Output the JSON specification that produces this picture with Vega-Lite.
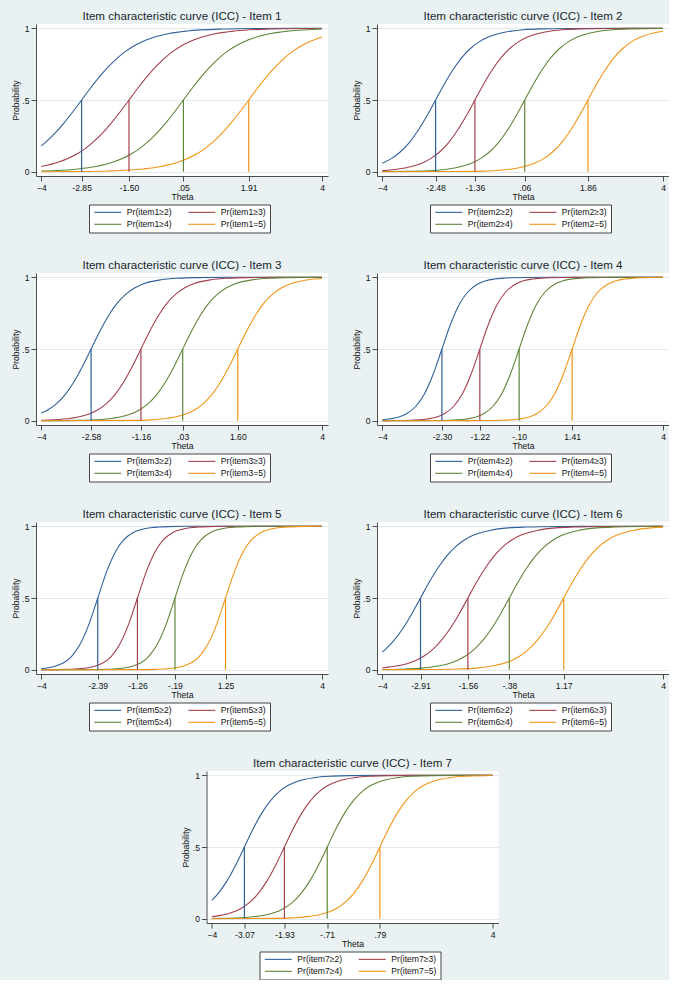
{
"$schema":"https://vega.github.io/schema/vega-lite/v6.json",
"background":"#e9f1f3",
"padding":{"left":11,"top":11,"right":0,"bottom":0},
"datasets":{
"thr":[
{"i":1,"c":2,"b":-2.85},{"i":1,"c":3,"b":-1.5},{"i":1,"c":4,"b":0.05},{"i":1,"c":5,"b":1.91},
{"i":2,"c":2,"b":-2.48},{"i":2,"c":3,"b":-1.36},{"i":2,"c":4,"b":0.06},{"i":2,"c":5,"b":1.86},
{"i":3,"c":2,"b":-2.58},{"i":3,"c":3,"b":-1.16},{"i":3,"c":4,"b":0.03},{"i":3,"c":5,"b":1.6},
{"i":4,"c":2,"b":-2.3},{"i":4,"c":3,"b":-1.22},{"i":4,"c":4,"b":-0.1},{"i":4,"c":5,"b":1.41},
{"i":5,"c":2,"b":-2.39},{"i":5,"c":3,"b":-1.26},{"i":5,"c":4,"b":-0.19},{"i":5,"c":5,"b":1.25},
{"i":6,"c":2,"b":-2.91},{"i":6,"c":3,"b":-1.56},{"i":6,"c":4,"b":-0.38},{"i":6,"c":5,"b":1.17},
{"i":7,"c":2,"b":-3.07},{"i":7,"c":3,"b":-1.93},{"i":7,"c":4,"b":-0.71},{"i":7,"c":5,"b":0.79}
],
"curves":[
{"i":1,"c":2,"t":-4,"p":0.18},{"i":1,"c":2,"t":-3.85,"p":0.211},{"i":1,"c":2,"t":-3.6,"p":0.271},{"i":1,"c":2,"t":-3.35,"p":0.341},{"i":1,"c":2,"t":-3.1,"p":0.418},{"i":1,"c":2,"t":-2.85,"p":0.5},{"i":1,"c":2,"t":-2.6,"p":0.582},{"i":1,"c":2,"t":-2.35,"p":0.659},{"i":1,"c":2,"t":-2.1,"p":0.729},{"i":1,"c":2,"t":-1.85,"p":0.789},{"i":1,"c":2,"t":-1.6,"p":0.839},{"i":1,"c":2,"t":-1.35,"p":0.879},{"i":1,"c":2,"t":-0.85,"p":0.933},{"i":1,"c":2,"t":-0.35,"p":0.964},{"i":1,"c":2,"t":0.15,"p":0.981},{"i":1,"c":2,"t":1.15,"p":0.995},{"i":1,"c":2,"t":2.15,"p":0.999},{"i":1,"c":2,"t":3.15,"p":1},{"i":1,"c":2,"t":4,"p":1},
{"i":1,"c":3,"t":-4,"p":0.036},{"i":1,"c":3,"t":-3.5,"p":0.067},{"i":1,"c":3,"t":-3,"p":0.121},{"i":1,"c":3,"t":-2.75,"p":0.161},{"i":1,"c":3,"t":-2.5,"p":0.211},{"i":1,"c":3,"t":-2.25,"p":0.271},{"i":1,"c":3,"t":-2,"p":0.341},{"i":1,"c":3,"t":-1.75,"p":0.418},{"i":1,"c":3,"t":-1.5,"p":0.5},{"i":1,"c":3,"t":-1.25,"p":0.582},{"i":1,"c":3,"t":-1,"p":0.659},{"i":1,"c":3,"t":-0.75,"p":0.729},{"i":1,"c":3,"t":-0.5,"p":0.789},{"i":1,"c":3,"t":-0.25,"p":0.839},{"i":1,"c":3,"t":0,"p":0.879},{"i":1,"c":3,"t":0.5,"p":0.933},{"i":1,"c":3,"t":1,"p":0.964},{"i":1,"c":3,"t":1.5,"p":0.981},{"i":1,"c":3,"t":2.5,"p":0.995},{"i":1,"c":3,"t":3.5,"p":0.999},{"i":1,"c":3,"t":4,"p":0.999},
{"i":1,"c":4,"t":-4,"p":0.005},{"i":1,"c":4,"t":-2.95,"p":0.019},{"i":1,"c":4,"t":-2.45,"p":0.036},{"i":1,"c":4,"t":-1.95,"p":0.067},{"i":1,"c":4,"t":-1.45,"p":0.121},{"i":1,"c":4,"t":-1.2,"p":0.161},{"i":1,"c":4,"t":-0.95,"p":0.211},{"i":1,"c":4,"t":-0.7,"p":0.271},{"i":1,"c":4,"t":-0.45,"p":0.341},{"i":1,"c":4,"t":-0.2,"p":0.418},{"i":1,"c":4,"t":0.05,"p":0.5},{"i":1,"c":4,"t":0.3,"p":0.582},{"i":1,"c":4,"t":0.55,"p":0.659},{"i":1,"c":4,"t":0.8,"p":0.729},{"i":1,"c":4,"t":1.05,"p":0.789},{"i":1,"c":4,"t":1.3,"p":0.839},{"i":1,"c":4,"t":1.55,"p":0.879},{"i":1,"c":4,"t":2.05,"p":0.933},{"i":1,"c":4,"t":2.55,"p":0.964},{"i":1,"c":4,"t":3.05,"p":0.981},{"i":1,"c":4,"t":4,"p":0.995},
{"i":1,"c":5,"t":-4,"p":0},{"i":1,"c":5,"t":-3.09,"p":0.001},{"i":1,"c":5,"t":-2.09,"p":0.005},{"i":1,"c":5,"t":-1.09,"p":0.019},{"i":1,"c":5,"t":-0.59,"p":0.036},{"i":1,"c":5,"t":-0.09,"p":0.067},{"i":1,"c":5,"t":0.41,"p":0.121},{"i":1,"c":5,"t":0.66,"p":0.161},{"i":1,"c":5,"t":0.91,"p":0.211},{"i":1,"c":5,"t":1.16,"p":0.271},{"i":1,"c":5,"t":1.41,"p":0.341},{"i":1,"c":5,"t":1.66,"p":0.418},{"i":1,"c":5,"t":1.91,"p":0.5},{"i":1,"c":5,"t":2.16,"p":0.582},{"i":1,"c":5,"t":2.41,"p":0.659},{"i":1,"c":5,"t":2.66,"p":0.729},{"i":1,"c":5,"t":2.91,"p":0.789},{"i":1,"c":5,"t":3.16,"p":0.839},{"i":1,"c":5,"t":3.41,"p":0.879},{"i":1,"c":5,"t":3.91,"p":0.933},{"i":1,"c":5,"t":4,"p":0.94},
{"i":2,"c":2,"t":-4,"p":0.059},{"i":2,"c":2,"t":-3.73,"p":0.093},{"i":2,"c":2,"t":-3.48,"p":0.139},{"i":2,"c":2,"t":-3.23,"p":0.203},{"i":2,"c":2,"t":-2.98,"p":0.287},{"i":2,"c":2,"t":-2.73,"p":0.388},{"i":2,"c":2,"t":-2.48,"p":0.5},{"i":2,"c":2,"t":-2.23,"p":0.612},{"i":2,"c":2,"t":-1.98,"p":0.713},{"i":2,"c":2,"t":-1.73,"p":0.797},{"i":2,"c":2,"t":-1.48,"p":0.861},{"i":2,"c":2,"t":-1.23,"p":0.907},{"i":2,"c":2,"t":-0.98,"p":0.939},{"i":2,"c":2,"t":-0.48,"p":0.974},{"i":2,"c":2,"t":0.02,"p":0.99},{"i":2,"c":2,"t":0.52,"p":0.996},{"i":2,"c":2,"t":1.52,"p":0.999},{"i":2,"c":2,"t":2.52,"p":1},{"i":2,"c":2,"t":4,"p":1},
{"i":2,"c":3,"t":-4,"p":0.008},{"i":2,"c":3,"t":-3.86,"p":0.01},{"i":2,"c":3,"t":-3.36,"p":0.026},{"i":2,"c":3,"t":-2.86,"p":0.061},{"i":2,"c":3,"t":-2.61,"p":0.093},{"i":2,"c":3,"t":-2.36,"p":0.139},{"i":2,"c":3,"t":-2.11,"p":0.203},{"i":2,"c":3,"t":-1.86,"p":0.287},{"i":2,"c":3,"t":-1.61,"p":0.388},{"i":2,"c":3,"t":-1.36,"p":0.5},{"i":2,"c":3,"t":-1.11,"p":0.612},{"i":2,"c":3,"t":-0.86,"p":0.713},{"i":2,"c":3,"t":-0.61,"p":0.797},{"i":2,"c":3,"t":-0.36,"p":0.861},{"i":2,"c":3,"t":-0.11,"p":0.907},{"i":2,"c":3,"t":0.14,"p":0.939},{"i":2,"c":3,"t":0.64,"p":0.974},{"i":2,"c":3,"t":1.14,"p":0.99},{"i":2,"c":3,"t":1.64,"p":0.996},{"i":2,"c":3,"t":2.64,"p":0.999},{"i":2,"c":3,"t":4,"p":1},
{"i":2,"c":4,"t":-4,"p":0.001},{"i":2,"c":4,"t":-2.94,"p":0.004},{"i":2,"c":4,"t":-2.44,"p":0.01},{"i":2,"c":4,"t":-1.94,"p":0.026},{"i":2,"c":4,"t":-1.44,"p":0.061},{"i":2,"c":4,"t":-1.19,"p":0.093},{"i":2,"c":4,"t":-0.94,"p":0.139},{"i":2,"c":4,"t":-0.69,"p":0.203},{"i":2,"c":4,"t":-0.44,"p":0.287},{"i":2,"c":4,"t":-0.19,"p":0.388},{"i":2,"c":4,"t":0.06,"p":0.5},{"i":2,"c":4,"t":0.31,"p":0.612},{"i":2,"c":4,"t":0.56,"p":0.713},{"i":2,"c":4,"t":0.81,"p":0.797},{"i":2,"c":4,"t":1.06,"p":0.861},{"i":2,"c":4,"t":1.31,"p":0.907},{"i":2,"c":4,"t":1.56,"p":0.939},{"i":2,"c":4,"t":2.06,"p":0.974},{"i":2,"c":4,"t":2.56,"p":0.99},{"i":2,"c":4,"t":3.06,"p":0.996},{"i":2,"c":4,"t":4,"p":0.999},
{"i":2,"c":5,"t":-4,"p":0},{"i":2,"c":5,"t":-2.14,"p":0.001},{"i":2,"c":5,"t":-1.14,"p":0.004},{"i":2,"c":5,"t":-0.64,"p":0.01},{"i":2,"c":5,"t":-0.14,"p":0.026},{"i":2,"c":5,"t":0.36,"p":0.061},{"i":2,"c":5,"t":0.61,"p":0.093},{"i":2,"c":5,"t":0.86,"p":0.139},{"i":2,"c":5,"t":1.11,"p":0.203},{"i":2,"c":5,"t":1.36,"p":0.287},{"i":2,"c":5,"t":1.61,"p":0.388},{"i":2,"c":5,"t":1.86,"p":0.5},{"i":2,"c":5,"t":2.11,"p":0.612},{"i":2,"c":5,"t":2.36,"p":0.713},{"i":2,"c":5,"t":2.61,"p":0.797},{"i":2,"c":5,"t":2.86,"p":0.861},{"i":2,"c":5,"t":3.11,"p":0.907},{"i":2,"c":5,"t":3.36,"p":0.939},{"i":2,"c":5,"t":3.86,"p":0.974},{"i":2,"c":5,"t":4,"p":0.98},
{"i":3,"c":2,"t":-4,"p":0.053},{"i":3,"c":2,"t":-3.83,"p":0.073},{"i":3,"c":2,"t":-3.58,"p":0.116},{"i":3,"c":2,"t":-3.33,"p":0.179},{"i":3,"c":2,"t":-3.08,"p":0.266},{"i":3,"c":2,"t":-2.83,"p":0.376},{"i":3,"c":2,"t":-2.58,"p":0.5},{"i":3,"c":2,"t":-2.33,"p":0.624},{"i":3,"c":2,"t":-2.08,"p":0.734},{"i":3,"c":2,"t":-1.83,"p":0.821},{"i":3,"c":2,"t":-1.58,"p":0.884},{"i":3,"c":2,"t":-1.33,"p":0.927},{"i":3,"c":2,"t":-1.08,"p":0.955},{"i":3,"c":2,"t":-0.58,"p":0.983},{"i":3,"c":2,"t":-0.08,"p":0.994},{"i":3,"c":2,"t":0.42,"p":0.998},{"i":3,"c":2,"t":1.42,"p":1},{"i":3,"c":2,"t":4,"p":1},
{"i":3,"c":3,"t":-4,"p":0.003},{"i":3,"c":3,"t":-3.66,"p":0.006},{"i":3,"c":3,"t":-3.16,"p":0.017},{"i":3,"c":3,"t":-2.66,"p":0.045},{"i":3,"c":3,"t":-2.41,"p":0.073},{"i":3,"c":3,"t":-2.16,"p":0.116},{"i":3,"c":3,"t":-1.91,"p":0.179},{"i":3,"c":3,"t":-1.66,"p":0.266},{"i":3,"c":3,"t":-1.41,"p":0.376},{"i":3,"c":3,"t":-1.16,"p":0.5},{"i":3,"c":3,"t":-0.91,"p":0.624},{"i":3,"c":3,"t":-0.66,"p":0.734},{"i":3,"c":3,"t":-0.41,"p":0.821},{"i":3,"c":3,"t":-0.16,"p":0.884},{"i":3,"c":3,"t":0.09,"p":0.927},{"i":3,"c":3,"t":0.34,"p":0.955},{"i":3,"c":3,"t":0.84,"p":0.983},{"i":3,"c":3,"t":1.34,"p":0.994},{"i":3,"c":3,"t":1.84,"p":0.998},{"i":3,"c":3,"t":2.84,"p":1},{"i":3,"c":3,"t":4,"p":1},
{"i":3,"c":4,"t":-4,"p":0},{"i":3,"c":4,"t":-2.97,"p":0.002},{"i":3,"c":4,"t":-2.47,"p":0.006},{"i":3,"c":4,"t":-1.97,"p":0.017},{"i":3,"c":4,"t":-1.47,"p":0.045},{"i":3,"c":4,"t":-1.22,"p":0.073},{"i":3,"c":4,"t":-0.97,"p":0.116},{"i":3,"c":4,"t":-0.72,"p":0.179},{"i":3,"c":4,"t":-0.47,"p":0.266},{"i":3,"c":4,"t":-0.22,"p":0.376},{"i":3,"c":4,"t":0.03,"p":0.5},{"i":3,"c":4,"t":0.28,"p":0.624},{"i":3,"c":4,"t":0.53,"p":0.734},{"i":3,"c":4,"t":0.78,"p":0.821},{"i":3,"c":4,"t":1.03,"p":0.884},{"i":3,"c":4,"t":1.28,"p":0.927},{"i":3,"c":4,"t":1.53,"p":0.955},{"i":3,"c":4,"t":2.03,"p":0.983},{"i":3,"c":4,"t":2.53,"p":0.994},{"i":3,"c":4,"t":3.03,"p":0.998},{"i":3,"c":4,"t":4,"p":1},
{"i":3,"c":5,"t":-4,"p":0},{"i":3,"c":5,"t":-1.4,"p":0.002},{"i":3,"c":5,"t":-0.9,"p":0.006},{"i":3,"c":5,"t":-0.4,"p":0.017},{"i":3,"c":5,"t":0.1,"p":0.045},{"i":3,"c":5,"t":0.35,"p":0.073},{"i":3,"c":5,"t":0.6,"p":0.116},{"i":3,"c":5,"t":0.85,"p":0.179},{"i":3,"c":5,"t":1.1,"p":0.266},{"i":3,"c":5,"t":1.35,"p":0.376},{"i":3,"c":5,"t":1.6,"p":0.5},{"i":3,"c":5,"t":1.85,"p":0.624},{"i":3,"c":5,"t":2.1,"p":0.734},{"i":3,"c":5,"t":2.35,"p":0.821},{"i":3,"c":5,"t":2.6,"p":0.884},{"i":3,"c":5,"t":2.85,"p":0.927},{"i":3,"c":5,"t":3.1,"p":0.955},{"i":3,"c":5,"t":3.6,"p":0.983},{"i":3,"c":5,"t":4,"p":0.992},
{"i":4,"c":2,"t":-4,"p":0.007},{"i":4,"c":2,"t":-3.8,"p":0.012},{"i":4,"c":2,"t":-3.55,"p":0.024},{"i":4,"c":2,"t":-3.3,"p":0.05},{"i":4,"c":2,"t":-3.05,"p":0.099},{"i":4,"c":2,"t":-2.8,"p":0.186},{"i":4,"c":2,"t":-2.55,"p":0.324},{"i":4,"c":2,"t":-2.3,"p":0.5},{"i":4,"c":2,"t":-2.05,"p":0.676},{"i":4,"c":2,"t":-1.8,"p":0.814},{"i":4,"c":2,"t":-1.55,"p":0.901},{"i":4,"c":2,"t":-1.3,"p":0.95},{"i":4,"c":2,"t":-1.05,"p":0.976},{"i":4,"c":2,"t":-0.8,"p":0.988},{"i":4,"c":2,"t":-0.55,"p":0.994},{"i":4,"c":2,"t":-0.3,"p":0.997},{"i":4,"c":2,"t":0.2,"p":0.999},{"i":4,"c":2,"t":0.7,"p":1},{"i":4,"c":2,"t":4,"p":1},
{"i":4,"c":3,"t":-4,"p":0},{"i":4,"c":3,"t":-3.72,"p":0.001},{"i":4,"c":3,"t":-3.22,"p":0.003},{"i":4,"c":3,"t":-2.97,"p":0.006},{"i":4,"c":3,"t":-2.72,"p":0.012},{"i":4,"c":3,"t":-2.47,"p":0.024},{"i":4,"c":3,"t":-2.22,"p":0.05},{"i":4,"c":3,"t":-1.97,"p":0.099},{"i":4,"c":3,"t":-1.72,"p":0.186},{"i":4,"c":3,"t":-1.47,"p":0.324},{"i":4,"c":3,"t":-1.22,"p":0.5},{"i":4,"c":3,"t":-0.97,"p":0.676},{"i":4,"c":3,"t":-0.72,"p":0.814},{"i":4,"c":3,"t":-0.47,"p":0.901},{"i":4,"c":3,"t":-0.22,"p":0.95},{"i":4,"c":3,"t":0.03,"p":0.976},{"i":4,"c":3,"t":0.28,"p":0.988},{"i":4,"c":3,"t":0.53,"p":0.994},{"i":4,"c":3,"t":0.78,"p":0.997},{"i":4,"c":3,"t":1.28,"p":0.999},{"i":4,"c":3,"t":1.78,"p":1},{"i":4,"c":3,"t":4,"p":1},
{"i":4,"c":4,"t":-4,"p":0},{"i":4,"c":4,"t":-2.6,"p":0.001},{"i":4,"c":4,"t":-2.1,"p":0.003},{"i":4,"c":4,"t":-1.85,"p":0.006},{"i":4,"c":4,"t":-1.6,"p":0.012},{"i":4,"c":4,"t":-1.35,"p":0.024},{"i":4,"c":4,"t":-1.1,"p":0.05},{"i":4,"c":4,"t":-0.85,"p":0.099},{"i":4,"c":4,"t":-0.6,"p":0.186},{"i":4,"c":4,"t":-0.35,"p":0.324},{"i":4,"c":4,"t":-0.1,"p":0.5},{"i":4,"c":4,"t":0.15,"p":0.676},{"i":4,"c":4,"t":0.4,"p":0.814},{"i":4,"c":4,"t":0.65,"p":0.901},{"i":4,"c":4,"t":0.9,"p":0.95},{"i":4,"c":4,"t":1.15,"p":0.976},{"i":4,"c":4,"t":1.4,"p":0.988},{"i":4,"c":4,"t":1.65,"p":0.994},{"i":4,"c":4,"t":1.9,"p":0.997},{"i":4,"c":4,"t":2.4,"p":0.999},{"i":4,"c":4,"t":2.9,"p":1},{"i":4,"c":4,"t":4,"p":1},
{"i":4,"c":5,"t":-4,"p":0},{"i":4,"c":5,"t":-1.09,"p":0.001},{"i":4,"c":5,"t":-0.59,"p":0.003},{"i":4,"c":5,"t":-0.34,"p":0.006},{"i":4,"c":5,"t":-0.09,"p":0.012},{"i":4,"c":5,"t":0.16,"p":0.024},{"i":4,"c":5,"t":0.41,"p":0.05},{"i":4,"c":5,"t":0.66,"p":0.099},{"i":4,"c":5,"t":0.91,"p":0.186},{"i":4,"c":5,"t":1.16,"p":0.324},{"i":4,"c":5,"t":1.41,"p":0.5},{"i":4,"c":5,"t":1.66,"p":0.676},{"i":4,"c":5,"t":1.91,"p":0.814},{"i":4,"c":5,"t":2.16,"p":0.901},{"i":4,"c":5,"t":2.41,"p":0.95},{"i":4,"c":5,"t":2.66,"p":0.976},{"i":4,"c":5,"t":2.91,"p":0.988},{"i":4,"c":5,"t":3.16,"p":0.994},{"i":4,"c":5,"t":3.41,"p":0.997},{"i":4,"c":5,"t":4,"p":1},
{"i":5,"c":2,"t":-4,"p":0.007},{"i":5,"c":2,"t":-3.89,"p":0.01},{"i":5,"c":2,"t":-3.64,"p":0.022},{"i":5,"c":2,"t":-3.39,"p":0.045},{"i":5,"c":2,"t":-3.14,"p":0.092},{"i":5,"c":2,"t":-2.89,"p":0.179},{"i":5,"c":2,"t":-2.64,"p":0.318},{"i":5,"c":2,"t":-2.39,"p":0.5},{"i":5,"c":2,"t":-2.14,"p":0.682},{"i":5,"c":2,"t":-1.89,"p":0.821},{"i":5,"c":2,"t":-1.64,"p":0.908},{"i":5,"c":2,"t":-1.39,"p":0.955},{"i":5,"c":2,"t":-1.14,"p":0.978},{"i":5,"c":2,"t":-0.89,"p":0.99},{"i":5,"c":2,"t":-0.64,"p":0.995},{"i":5,"c":2,"t":-0.39,"p":0.998},{"i":5,"c":2,"t":0.11,"p":1},{"i":5,"c":2,"t":4,"p":1},
{"i":5,"c":3,"t":-4,"p":0},{"i":5,"c":3,"t":-3.76,"p":0.0005},{"i":5,"c":3,"t":-3.26,"p":0.002},{"i":5,"c":3,"t":-3.01,"p":0.005},{"i":5,"c":3,"t":-2.76,"p":0.01},{"i":5,"c":3,"t":-2.51,"p":0.022},{"i":5,"c":3,"t":-2.26,"p":0.045},{"i":5,"c":3,"t":-2.01,"p":0.092},{"i":5,"c":3,"t":-1.76,"p":0.179},{"i":5,"c":3,"t":-1.51,"p":0.318},{"i":5,"c":3,"t":-1.26,"p":0.5},{"i":5,"c":3,"t":-1.01,"p":0.682},{"i":5,"c":3,"t":-0.76,"p":0.821},{"i":5,"c":3,"t":-0.51,"p":0.908},{"i":5,"c":3,"t":-0.26,"p":0.955},{"i":5,"c":3,"t":-0.01,"p":0.978},{"i":5,"c":3,"t":0.24,"p":0.99},{"i":5,"c":3,"t":0.49,"p":0.995},{"i":5,"c":3,"t":0.74,"p":0.998},{"i":5,"c":3,"t":1.24,"p":1},{"i":5,"c":3,"t":4,"p":1},
{"i":5,"c":4,"t":-4,"p":0},{"i":5,"c":4,"t":-2.69,"p":0.0005},{"i":5,"c":4,"t":-2.19,"p":0.002},{"i":5,"c":4,"t":-1.94,"p":0.005},{"i":5,"c":4,"t":-1.69,"p":0.01},{"i":5,"c":4,"t":-1.44,"p":0.022},{"i":5,"c":4,"t":-1.19,"p":0.045},{"i":5,"c":4,"t":-0.94,"p":0.092},{"i":5,"c":4,"t":-0.69,"p":0.179},{"i":5,"c":4,"t":-0.44,"p":0.318},{"i":5,"c":4,"t":-0.19,"p":0.5},{"i":5,"c":4,"t":0.06,"p":0.682},{"i":5,"c":4,"t":0.31,"p":0.821},{"i":5,"c":4,"t":0.56,"p":0.908},{"i":5,"c":4,"t":0.81,"p":0.955},{"i":5,"c":4,"t":1.06,"p":0.978},{"i":5,"c":4,"t":1.31,"p":0.99},{"i":5,"c":4,"t":1.56,"p":0.995},{"i":5,"c":4,"t":1.81,"p":0.998},{"i":5,"c":4,"t":2.31,"p":1},{"i":5,"c":4,"t":4,"p":1},
{"i":5,"c":5,"t":-4,"p":0},{"i":5,"c":5,"t":-1.25,"p":0.0005},{"i":5,"c":5,"t":-0.75,"p":0.002},{"i":5,"c":5,"t":-0.5,"p":0.005},{"i":5,"c":5,"t":-0.25,"p":0.01},{"i":5,"c":5,"t":0,"p":0.022},{"i":5,"c":5,"t":0.25,"p":0.045},{"i":5,"c":5,"t":0.5,"p":0.092},{"i":5,"c":5,"t":0.75,"p":0.179},{"i":5,"c":5,"t":1,"p":0.318},{"i":5,"c":5,"t":1.25,"p":0.5},{"i":5,"c":5,"t":1.5,"p":0.682},{"i":5,"c":5,"t":1.75,"p":0.821},{"i":5,"c":5,"t":2,"p":0.908},{"i":5,"c":5,"t":2.25,"p":0.955},{"i":5,"c":5,"t":2.5,"p":0.978},{"i":5,"c":5,"t":2.75,"p":0.99},{"i":5,"c":5,"t":3,"p":0.995},{"i":5,"c":5,"t":3.25,"p":0.998},{"i":5,"c":5,"t":3.75,"p":1},{"i":5,"c":5,"t":4,"p":1},
{"i":6,"c":2,"t":-4,"p":0.123},{"i":6,"c":2,"t":-3.91,"p":0.142},{"i":6,"c":2,"t":-3.66,"p":0.206},{"i":6,"c":2,"t":-3.41,"p":0.289},{"i":6,"c":2,"t":-3.16,"p":0.389},{"i":6,"c":2,"t":-2.91,"p":0.5},{"i":6,"c":2,"t":-2.66,"p":0.611},{"i":6,"c":2,"t":-2.41,"p":0.711},{"i":6,"c":2,"t":-2.16,"p":0.794},{"i":6,"c":2,"t":-1.91,"p":0.858},{"i":6,"c":2,"t":-1.66,"p":0.905},{"i":6,"c":2,"t":-1.41,"p":0.937},{"i":6,"c":2,"t":-0.91,"p":0.973},{"i":6,"c":2,"t":-0.41,"p":0.989},{"i":6,"c":2,"t":0.09,"p":0.995},{"i":6,"c":2,"t":1.09,"p":0.999},{"i":6,"c":2,"t":2.09,"p":1},{"i":6,"c":2,"t":4,"p":1},
{"i":6,"c":3,"t":-4,"p":0.012},{"i":6,"c":3,"t":-3.56,"p":0.027},{"i":6,"c":3,"t":-3.06,"p":0.063},{"i":6,"c":3,"t":-2.81,"p":0.095},{"i":6,"c":3,"t":-2.56,"p":0.142},{"i":6,"c":3,"t":-2.31,"p":0.206},{"i":6,"c":3,"t":-2.06,"p":0.289},{"i":6,"c":3,"t":-1.81,"p":0.389},{"i":6,"c":3,"t":-1.56,"p":0.5},{"i":6,"c":3,"t":-1.31,"p":0.611},{"i":6,"c":3,"t":-1.06,"p":0.711},{"i":6,"c":3,"t":-0.81,"p":0.794},{"i":6,"c":3,"t":-0.56,"p":0.858},{"i":6,"c":3,"t":-0.31,"p":0.905},{"i":6,"c":3,"t":-0.06,"p":0.937},{"i":6,"c":3,"t":0.44,"p":0.973},{"i":6,"c":3,"t":0.94,"p":0.989},{"i":6,"c":3,"t":1.44,"p":0.995},{"i":6,"c":3,"t":2.44,"p":0.999},{"i":6,"c":3,"t":3.44,"p":1},{"i":6,"c":3,"t":4,"p":1},
{"i":6,"c":4,"t":-4,"p":0.001},{"i":6,"c":4,"t":-3.38,"p":0.005},{"i":6,"c":4,"t":-2.88,"p":0.011},{"i":6,"c":4,"t":-2.38,"p":0.027},{"i":6,"c":4,"t":-1.88,"p":0.063},{"i":6,"c":4,"t":-1.63,"p":0.095},{"i":6,"c":4,"t":-1.38,"p":0.142},{"i":6,"c":4,"t":-1.13,"p":0.206},{"i":6,"c":4,"t":-0.88,"p":0.289},{"i":6,"c":4,"t":-0.63,"p":0.389},{"i":6,"c":4,"t":-0.38,"p":0.5},{"i":6,"c":4,"t":-0.13,"p":0.611},{"i":6,"c":4,"t":0.12,"p":0.711},{"i":6,"c":4,"t":0.37,"p":0.794},{"i":6,"c":4,"t":0.62,"p":0.858},{"i":6,"c":4,"t":0.87,"p":0.905},{"i":6,"c":4,"t":1.12,"p":0.937},{"i":6,"c":4,"t":1.62,"p":0.973},{"i":6,"c":4,"t":2.12,"p":0.989},{"i":6,"c":4,"t":2.62,"p":0.995},{"i":6,"c":4,"t":3.62,"p":0.999},{"i":6,"c":4,"t":4,"p":1},
{"i":6,"c":5,"t":-4,"p":0},{"i":6,"c":5,"t":-2.83,"p":0.001},{"i":6,"c":5,"t":-1.83,"p":0.005},{"i":6,"c":5,"t":-1.33,"p":0.011},{"i":6,"c":5,"t":-0.83,"p":0.027},{"i":6,"c":5,"t":-0.33,"p":0.063},{"i":6,"c":5,"t":-0.08,"p":0.095},{"i":6,"c":5,"t":0.17,"p":0.142},{"i":6,"c":5,"t":0.42,"p":0.206},{"i":6,"c":5,"t":0.67,"p":0.289},{"i":6,"c":5,"t":0.92,"p":0.389},{"i":6,"c":5,"t":1.17,"p":0.5},{"i":6,"c":5,"t":1.42,"p":0.611},{"i":6,"c":5,"t":1.67,"p":0.711},{"i":6,"c":5,"t":1.92,"p":0.794},{"i":6,"c":5,"t":2.17,"p":0.858},{"i":6,"c":5,"t":2.42,"p":0.905},{"i":6,"c":5,"t":2.67,"p":0.937},{"i":6,"c":5,"t":3.17,"p":0.973},{"i":6,"c":5,"t":3.67,"p":0.989},{"i":6,"c":5,"t":4,"p":0.994},
{"i":7,"c":2,"t":-4,"p":0.127},{"i":7,"c":2,"t":-3.82,"p":0.175},{"i":7,"c":2,"t":-3.57,"p":0.262},{"i":7,"c":2,"t":-3.32,"p":0.373},{"i":7,"c":2,"t":-3.07,"p":0.5},{"i":7,"c":2,"t":-2.82,"p":0.627},{"i":7,"c":2,"t":-2.57,"p":0.738},{"i":7,"c":2,"t":-2.32,"p":0.825},{"i":7,"c":2,"t":-2.07,"p":0.888},{"i":7,"c":2,"t":-1.82,"p":0.93},{"i":7,"c":2,"t":-1.57,"p":0.957},{"i":7,"c":2,"t":-1.07,"p":0.984},{"i":7,"c":2,"t":-0.57,"p":0.994},{"i":7,"c":2,"t":-0.07,"p":0.998},{"i":7,"c":2,"t":0.93,"p":1},{"i":7,"c":2,"t":4,"p":1},
{"i":7,"c":3,"t":-4,"p":0.014},{"i":7,"c":3,"t":-3.93,"p":0.016},{"i":7,"c":3,"t":-3.43,"p":0.043},{"i":7,"c":3,"t":-3.18,"p":0.07},{"i":7,"c":3,"t":-2.93,"p":0.112},{"i":7,"c":3,"t":-2.68,"p":0.175},{"i":7,"c":3,"t":-2.43,"p":0.262},{"i":7,"c":3,"t":-2.18,"p":0.373},{"i":7,"c":3,"t":-1.93,"p":0.5},{"i":7,"c":3,"t":-1.68,"p":0.627},{"i":7,"c":3,"t":-1.43,"p":0.738},{"i":7,"c":3,"t":-1.18,"p":0.825},{"i":7,"c":3,"t":-0.93,"p":0.888},{"i":7,"c":3,"t":-0.68,"p":0.93},{"i":7,"c":3,"t":-0.43,"p":0.957},{"i":7,"c":3,"t":0.07,"p":0.984},{"i":7,"c":3,"t":0.57,"p":0.994},{"i":7,"c":3,"t":1.07,"p":0.998},{"i":7,"c":3,"t":2.07,"p":1},{"i":7,"c":3,"t":4,"p":1},
{"i":7,"c":4,"t":-4,"p":0.001},{"i":7,"c":4,"t":-3.71,"p":0.002},{"i":7,"c":4,"t":-3.21,"p":0.006},{"i":7,"c":4,"t":-2.71,"p":0.016},{"i":7,"c":4,"t":-2.21,"p":0.043},{"i":7,"c":4,"t":-1.96,"p":0.07},{"i":7,"c":4,"t":-1.71,"p":0.112},{"i":7,"c":4,"t":-1.46,"p":0.175},{"i":7,"c":4,"t":-1.21,"p":0.262},{"i":7,"c":4,"t":-0.96,"p":0.373},{"i":7,"c":4,"t":-0.71,"p":0.5},{"i":7,"c":4,"t":-0.46,"p":0.627},{"i":7,"c":4,"t":-0.21,"p":0.738},{"i":7,"c":4,"t":0.04,"p":0.825},{"i":7,"c":4,"t":0.29,"p":0.888},{"i":7,"c":4,"t":0.54,"p":0.93},{"i":7,"c":4,"t":0.79,"p":0.957},{"i":7,"c":4,"t":1.29,"p":0.984},{"i":7,"c":4,"t":1.79,"p":0.994},{"i":7,"c":4,"t":2.29,"p":0.998},{"i":7,"c":4,"t":3.29,"p":1},{"i":7,"c":4,"t":4,"p":1},
{"i":7,"c":5,"t":-4,"p":0},{"i":7,"c":5,"t":-2.21,"p":0.002},{"i":7,"c":5,"t":-1.71,"p":0.006},{"i":7,"c":5,"t":-1.21,"p":0.016},{"i":7,"c":5,"t":-0.71,"p":0.043},{"i":7,"c":5,"t":-0.46,"p":0.07},{"i":7,"c":5,"t":-0.21,"p":0.112},{"i":7,"c":5,"t":0.04,"p":0.175},{"i":7,"c":5,"t":0.29,"p":0.262},{"i":7,"c":5,"t":0.54,"p":0.373},{"i":7,"c":5,"t":0.79,"p":0.5},{"i":7,"c":5,"t":1.04,"p":0.627},{"i":7,"c":5,"t":1.29,"p":0.738},{"i":7,"c":5,"t":1.54,"p":0.825},{"i":7,"c":5,"t":1.79,"p":0.888},{"i":7,"c":5,"t":2.04,"p":0.93},{"i":7,"c":5,"t":2.29,"p":0.957},{"i":7,"c":5,"t":2.79,"p":0.984},{"i":7,"c":5,"t":3.29,"p":0.994},{"i":7,"c":5,"t":4,"p":0.999}
]
},
"config":{
"font":"Liberation Sans",
"view":{"fill":"white","stroke":null},
"axis":{"domainColor":"#4d4d4d","tickColor":"#4d4d4d","tickSize":5,"labelFontSize":8.6,"labelColor":"#111111","titleFontSize":8.6,"titleFontWeight":"normal","titleColor":"#111111","labelPadding":2,"gridColor":"#e2eaed","labelFlush":false,"labelOverlap":false},
"axisX":{"grid":false,"titlePadding":1},
"axisY":{"grid":true,"labelAngle":0,"titlePadding":1.5,"minExtent":0},
"legend":{"fillColor":"white","strokeColor":"#444444","padding":3.5,"labelFontSize":8.6,"labelColor":"#111111","symbolStrokeWidth":1.6,"columnPadding":13,"rowPadding":3,"labelLimit":200},
"title":{"fontSize":11.6,"fontWeight":"normal","color":"#1a1f2b","offset":1},
"line":{"strokeWidth":1.1,"interpolate":"monotone"},
"rule":{"strokeWidth":1.2}
},
"spacing":27,
"center":true,
"resolve":{"scale":{"color":"independent","x":"independent","y":"independent"},"legend":{"color":"independent"},"axis":{"x":"independent","y":"independent"}},
"vconcat":[
{"hconcat":[
{"width":292,"height":152,"title":"Item characteristic curve (ICC) - Item 1","layer":[
{"data":{"name":"curves"},"transform":[{"filter":"datum.i==1"}],"mark":"line","encoding":{
"x":{"field":"t","type":"quantitative","title":"Theta","scale":{"domain":[-4.15,4.17],"nice":false,"zero":false},"axis":{"values":[-4,-2.85,-1.5,0.05,1.91,4],"labelExpr":"abs(datum.value)==4 ? format(datum.value,'d') : (datum.value<0?'-':'') + (abs(datum.value)<1 ? substring(format(abs(datum.value),'.2f'),1) : format(abs(datum.value),'.2f'))"}},
"y":{"field":"p","type":"quantitative","title":"Probability","scale":{"domain":[-0.03,1.03],"nice":false,"zero":false},"axis":{"values":[0,0.5,1],"labelExpr":"datum.value==0.5?'.5':(datum.value==1?'1':'0')"}},
"color":{"field":"c","type":"nominal","scale":{"domain":[2,3,4,5],"range":["#30609a","#a3404c","#60853a","#f29418"]},"legend":{"title":null,"orient":"none","legendX":53,"legendY":180.5,"columns":2,"direction":"horizontal","symbolType":"M0,0H9","symbolSize":36,"symbolOffset":-2.5,"labelOffset":28.2,"labelExpr":"datum.value==5 ? 'Pr(item1=5)' : 'Pr(item1≥' + datum.value + ')'"}}}},
{"data":{"name":"thr"},"transform":[{"filter":"datum.i==1"}],"mark":"rule","encoding":{"x":{"field":"b","type":"quantitative","title":"Theta"},"y":{"datum":0},"y2":{"datum":0.5},"color":{"field":"c","type":"nominal"}}}
]},
{"width":292,"height":152,"title":"Item characteristic curve (ICC) - Item 2","layer":[
{"data":{"name":"curves"},"transform":[{"filter":"datum.i==2"}],"mark":"line","encoding":{
"x":{"field":"t","type":"quantitative","title":"Theta","scale":{"domain":[-4.15,4.17],"nice":false,"zero":false},"axis":{"values":[-4,-2.48,-1.36,0.06,1.86,4],"labelExpr":"abs(datum.value)==4 ? format(datum.value,'d') : (datum.value<0?'-':'') + (abs(datum.value)<1 ? substring(format(abs(datum.value),'.2f'),1) : format(abs(datum.value),'.2f'))"}},
"y":{"field":"p","type":"quantitative","title":"Probability","scale":{"domain":[-0.03,1.03],"nice":false,"zero":false},"axis":{"values":[0,0.5,1],"labelExpr":"datum.value==0.5?'.5':(datum.value==1?'1':'0')"}},
"color":{"field":"c","type":"nominal","scale":{"domain":[2,3,4,5],"range":["#30609a","#a3404c","#60853a","#f29418"]},"legend":{"title":null,"orient":"none","legendX":53,"legendY":180.5,"columns":2,"direction":"horizontal","symbolType":"M0,0H9","symbolSize":36,"symbolOffset":-2.5,"labelOffset":28.2,"labelExpr":"datum.value==5 ? 'Pr(item2=5)' : 'Pr(item2≥' + datum.value + ')'"}}}},
{"data":{"name":"thr"},"transform":[{"filter":"datum.i==2"}],"mark":"rule","encoding":{"x":{"field":"b","type":"quantitative","title":"Theta"},"y":{"datum":0},"y2":{"datum":0.5},"color":{"field":"c","type":"nominal"}}}
]}
],"spacing":24,"resolve":{"scale":{"color":"independent","x":"independent","y":"independent"},"legend":{"color":"independent"},"axis":{"x":"independent","y":"independent"}}},
{"hconcat":[
{"width":292,"height":152,"title":"Item characteristic curve (ICC) - Item 3","layer":[
{"data":{"name":"curves"},"transform":[{"filter":"datum.i==3"}],"mark":"line","encoding":{
"x":{"field":"t","type":"quantitative","title":"Theta","scale":{"domain":[-4.15,4.17],"nice":false,"zero":false},"axis":{"values":[-4,-2.58,-1.16,0.03,1.6,4],"labelExpr":"abs(datum.value)==4 ? format(datum.value,'d') : (datum.value<0?'-':'') + (abs(datum.value)<1 ? substring(format(abs(datum.value),'.2f'),1) : format(abs(datum.value),'.2f'))"}},
"y":{"field":"p","type":"quantitative","title":"Probability","scale":{"domain":[-0.03,1.03],"nice":false,"zero":false},"axis":{"values":[0,0.5,1],"labelExpr":"datum.value==0.5?'.5':(datum.value==1?'1':'0')"}},
"color":{"field":"c","type":"nominal","scale":{"domain":[2,3,4,5],"range":["#30609a","#a3404c","#60853a","#f29418"]},"legend":{"title":null,"orient":"none","legendX":53,"legendY":180.5,"columns":2,"direction":"horizontal","symbolType":"M0,0H9","symbolSize":36,"symbolOffset":-2.5,"labelOffset":28.2,"labelExpr":"datum.value==5 ? 'Pr(item3=5)' : 'Pr(item3≥' + datum.value + ')'"}}}},
{"data":{"name":"thr"},"transform":[{"filter":"datum.i==3"}],"mark":"rule","encoding":{"x":{"field":"b","type":"quantitative","title":"Theta"},"y":{"datum":0},"y2":{"datum":0.5},"color":{"field":"c","type":"nominal"}}}
]},
{"width":292,"height":152,"title":"Item characteristic curve (ICC) - Item 4","layer":[
{"data":{"name":"curves"},"transform":[{"filter":"datum.i==4"}],"mark":"line","encoding":{
"x":{"field":"t","type":"quantitative","title":"Theta","scale":{"domain":[-4.15,4.17],"nice":false,"zero":false},"axis":{"values":[-4,-2.3,-1.22,-0.1,1.41,4],"labelExpr":"abs(datum.value)==4 ? format(datum.value,'d') : (datum.value<0?'-':'') + (abs(datum.value)<1 ? substring(format(abs(datum.value),'.2f'),1) : format(abs(datum.value),'.2f'))"}},
"y":{"field":"p","type":"quantitative","title":"Probability","scale":{"domain":[-0.03,1.03],"nice":false,"zero":false},"axis":{"values":[0,0.5,1],"labelExpr":"datum.value==0.5?'.5':(datum.value==1?'1':'0')"}},
"color":{"field":"c","type":"nominal","scale":{"domain":[2,3,4,5],"range":["#30609a","#a3404c","#60853a","#f29418"]},"legend":{"title":null,"orient":"none","legendX":53,"legendY":180.5,"columns":2,"direction":"horizontal","symbolType":"M0,0H9","symbolSize":36,"symbolOffset":-2.5,"labelOffset":28.2,"labelExpr":"datum.value==5 ? 'Pr(item4=5)' : 'Pr(item4≥' + datum.value + ')'"}}}},
{"data":{"name":"thr"},"transform":[{"filter":"datum.i==4"}],"mark":"rule","encoding":{"x":{"field":"b","type":"quantitative","title":"Theta"},"y":{"datum":0},"y2":{"datum":0.5},"color":{"field":"c","type":"nominal"}}}
]}
],"spacing":24,"resolve":{"scale":{"color":"independent","x":"independent","y":"independent"},"legend":{"color":"independent"},"axis":{"x":"independent","y":"independent"}}},
{"hconcat":[
{"width":292,"height":152,"title":"Item characteristic curve (ICC) - Item 5","layer":[
{"data":{"name":"curves"},"transform":[{"filter":"datum.i==5"}],"mark":"line","encoding":{
"x":{"field":"t","type":"quantitative","title":"Theta","scale":{"domain":[-4.15,4.17],"nice":false,"zero":false},"axis":{"values":[-4,-2.39,-1.26,-0.19,1.25,4],"labelExpr":"abs(datum.value)==4 ? format(datum.value,'d') : (datum.value<0?'-':'') + (abs(datum.value)<1 ? substring(format(abs(datum.value),'.2f'),1) : format(abs(datum.value),'.2f'))"}},
"y":{"field":"p","type":"quantitative","title":"Probability","scale":{"domain":[-0.03,1.03],"nice":false,"zero":false},"axis":{"values":[0,0.5,1],"labelExpr":"datum.value==0.5?'.5':(datum.value==1?'1':'0')"}},
"color":{"field":"c","type":"nominal","scale":{"domain":[2,3,4,5],"range":["#30609a","#a3404c","#60853a","#f29418"]},"legend":{"title":null,"orient":"none","legendX":53,"legendY":180.5,"columns":2,"direction":"horizontal","symbolType":"M0,0H9","symbolSize":36,"symbolOffset":-2.5,"labelOffset":28.2,"labelExpr":"datum.value==5 ? 'Pr(item5=5)' : 'Pr(item5≥' + datum.value + ')'"}}}},
{"data":{"name":"thr"},"transform":[{"filter":"datum.i==5"}],"mark":"rule","encoding":{"x":{"field":"b","type":"quantitative","title":"Theta"},"y":{"datum":0},"y2":{"datum":0.5},"color":{"field":"c","type":"nominal"}}}
]},
{"width":292,"height":152,"title":"Item characteristic curve (ICC) - Item 6","layer":[
{"data":{"name":"curves"},"transform":[{"filter":"datum.i==6"}],"mark":"line","encoding":{
"x":{"field":"t","type":"quantitative","title":"Theta","scale":{"domain":[-4.15,4.17],"nice":false,"zero":false},"axis":{"values":[-4,-2.91,-1.56,-0.38,1.17,4],"labelExpr":"abs(datum.value)==4 ? format(datum.value,'d') : (datum.value<0?'-':'') + (abs(datum.value)<1 ? substring(format(abs(datum.value),'.2f'),1) : format(abs(datum.value),'.2f'))"}},
"y":{"field":"p","type":"quantitative","title":"Probability","scale":{"domain":[-0.03,1.03],"nice":false,"zero":false},"axis":{"values":[0,0.5,1],"labelExpr":"datum.value==0.5?'.5':(datum.value==1?'1':'0')"}},
"color":{"field":"c","type":"nominal","scale":{"domain":[2,3,4,5],"range":["#30609a","#a3404c","#60853a","#f29418"]},"legend":{"title":null,"orient":"none","legendX":53,"legendY":180.5,"columns":2,"direction":"horizontal","symbolType":"M0,0H9","symbolSize":36,"symbolOffset":-2.5,"labelOffset":28.2,"labelExpr":"datum.value==5 ? 'Pr(item6=5)' : 'Pr(item6≥' + datum.value + ')'"}}}},
{"data":{"name":"thr"},"transform":[{"filter":"datum.i==6"}],"mark":"rule","encoding":{"x":{"field":"b","type":"quantitative","title":"Theta"},"y":{"datum":0},"y2":{"datum":0.5},"color":{"field":"c","type":"nominal"}}}
]}
],"spacing":24,"resolve":{"scale":{"color":"independent","x":"independent","y":"independent"},"legend":{"color":"independent"},"axis":{"x":"independent","y":"independent"}}},
{"width":292,"height":152,"title":"Item characteristic curve (ICC) - Item 7","layer":[
{"data":{"name":"curves"},"transform":[{"filter":"datum.i==7"}],"mark":"line","encoding":{
"x":{"field":"t","type":"quantitative","title":"Theta","scale":{"domain":[-4.15,4.17],"nice":false,"zero":false},"axis":{"values":[-4,-3.07,-1.93,-0.71,0.79,4],"labelExpr":"abs(datum.value)==4 ? format(datum.value,'d') : (datum.value<0?'-':'') + (abs(datum.value)<1 ? substring(format(abs(datum.value),'.2f'),1) : format(abs(datum.value),'.2f'))"}},
"y":{"field":"p","type":"quantitative","title":"Probability","scale":{"domain":[-0.03,1.03],"nice":false,"zero":false},"axis":{"values":[0,0.5,1],"labelExpr":"datum.value==0.5?'.5':(datum.value==1?'1':'0')"}},
"color":{"field":"c","type":"nominal","scale":{"domain":[2,3,4,5],"range":["#30609a","#a3404c","#60853a","#f29418"]},"legend":{"title":null,"orient":"none","legendX":53,"legendY":180.5,"columns":2,"direction":"horizontal","symbolType":"M0,0H9","symbolSize":36,"symbolOffset":-2.5,"labelOffset":28.2,"labelExpr":"datum.value==5 ? 'Pr(item7=5)' : 'Pr(item7≥' + datum.value + ')'"}}}},
{"data":{"name":"thr"},"transform":[{"filter":"datum.i==7"}],"mark":"rule","encoding":{"x":{"field":"b","type":"quantitative","title":"Theta"},"y":{"datum":0},"y2":{"datum":0.5},"color":{"field":"c","type":"nominal"}}}
]}
]
}
